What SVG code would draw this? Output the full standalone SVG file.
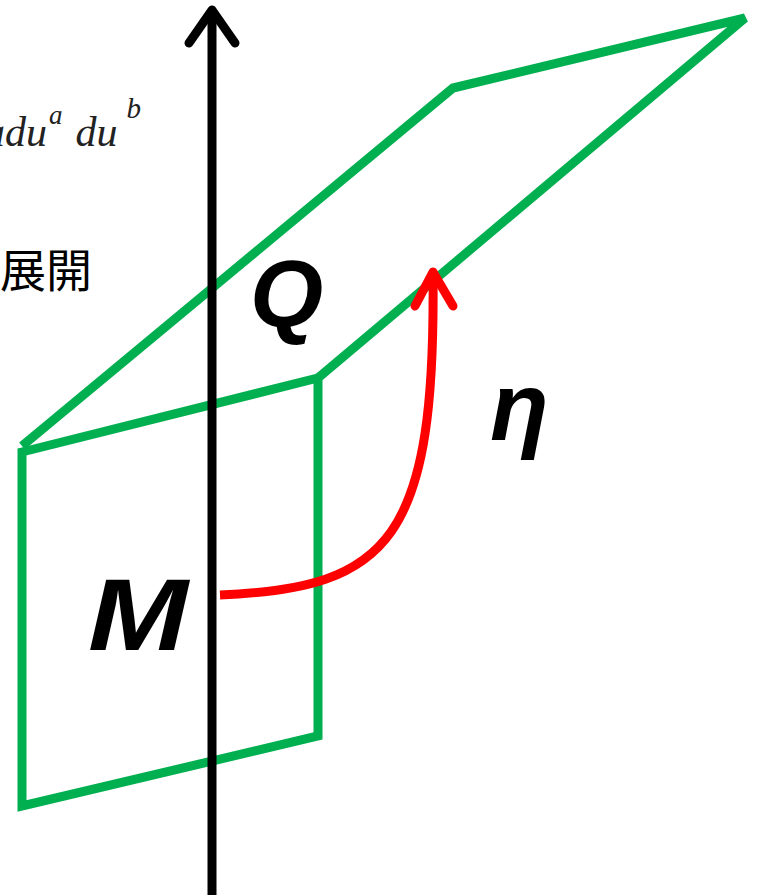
<svg xmlns="http://www.w3.org/2000/svg" width="758" height="895" viewBox="0 0 758 895">
<style>
.g{fill:none;stroke:#00b050;stroke-width:9;stroke-linejoin:miter}
.lbl{font-family:"Liberation Sans",Arial,sans-serif;font-weight:bold;font-style:italic;fill:#000}
.math{font-family:"Liberation Serif","Times New Roman",serif;font-style:italic;fill:#222}
</style>
<rect width="758" height="895" fill="#fff"/>
<g id="formula">
<text class="math" x="-16" y="146" font-size="42">adu<tspan dx="2" dy="-22" font-size="27">a</tspan><tspan dx="13" dy="22">du</tspan><tspan dx="9" dy="-28" font-size="29">b</tspan></text>
</g>
<g id="tenkai"><text x="0" y="287" font-family="'Noto Sans CJK JP','Noto Sans CJK SC',sans-serif" font-size="46" fill="#000">展開</text></g>
<g id="upper-plane"><polyline class="g" points="22,446 453,88 745,18 318,378"/></g>
<g id="lower-plane"><polygon class="g" points="22,452 318,378 318,736 22,806"/></g>
<g id="connectors">
<g id="axis" fill="none" stroke="#000" stroke-width="9" stroke-linecap="round" stroke-linejoin="round">
<line x1="212" y1="895" x2="212" y2="12"/>
<polyline points="189,43 212,10 235,43"/>
</g>
<g id="eta-arrow" fill="none" stroke="#ff0000" stroke-width="9" stroke-linecap="round" stroke-linejoin="round">
<path d="M220,595 C390,588 436,540 433,272" stroke-linecap="butt"/>
<polyline points="415,306 433,272 453,306"/>
</g>
</g>
<g id="Q"><text class="lbl" x="250" y="326" font-size="94">Q</text></g>
<g id="M"><text class="lbl" x="88" y="650" font-size="102" textLength="100" lengthAdjust="spacingAndGlyphs">M</text></g>
<g id="eta"><text class="lbl" x="490" y="440" font-size="96">η</text></g>
</svg>
